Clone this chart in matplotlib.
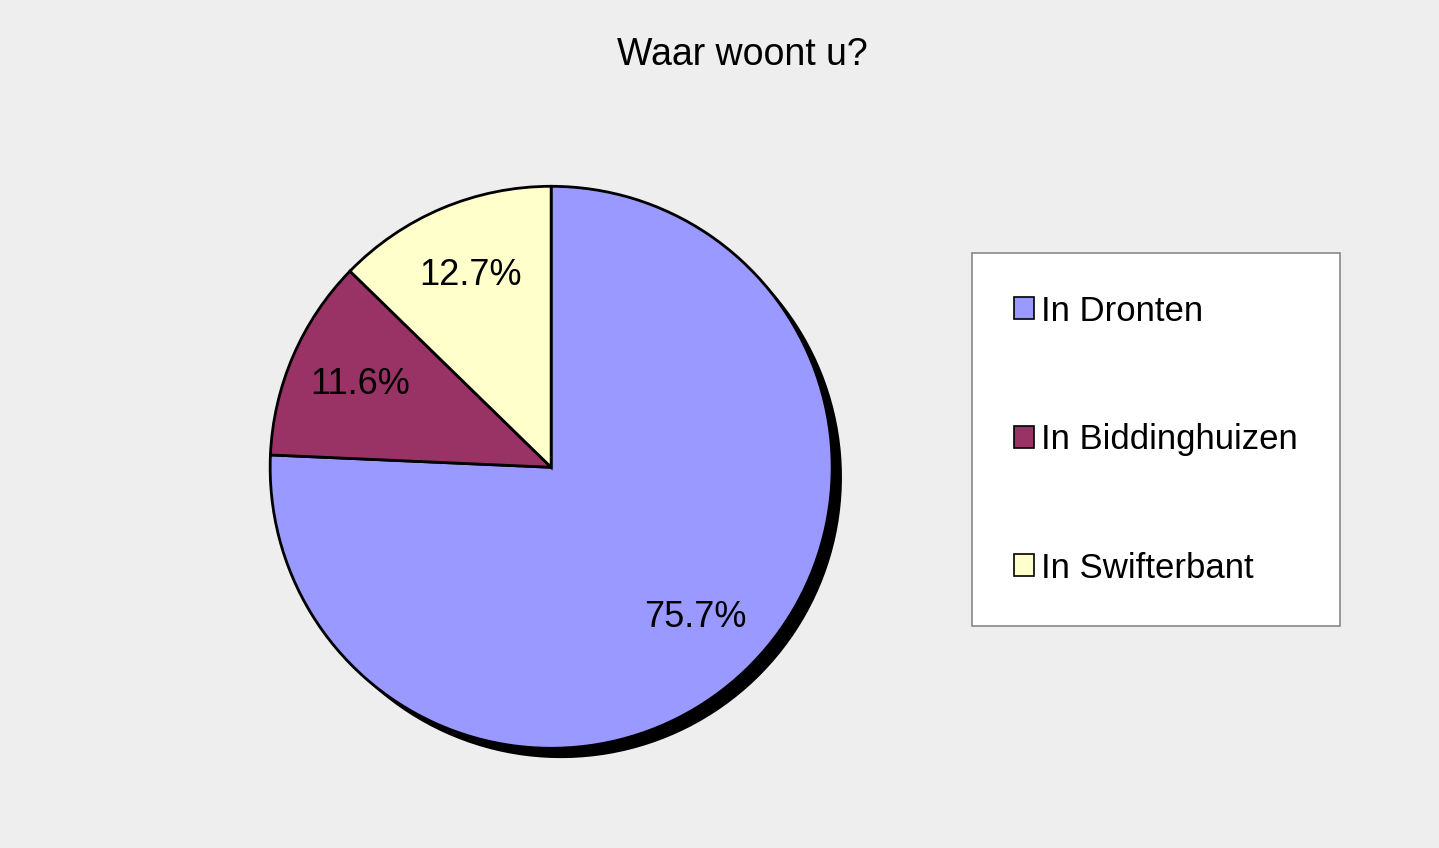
import matplotlib
matplotlib.use("Agg")
import matplotlib.pyplot as plt
from matplotlib.patches import Patch

plt.rcParams['font.family'] = ['Liberation Sans', 'DejaVu Sans']

labels = ["In Dronten", "In Biddinghuizen", "In Swifterbant"]
values = [75.7, 11.6, 12.7]
colors = ["#9999ff", "#993366", "#ffffcc"]

fig = plt.figure(figsize=(14.39, 8.48), dpi=100, facecolor="#eeeeee")
ax = fig.add_axes([0.383 - 0.1953, 0.449 - 0.3314, 0.3906, 0.6627])
ax.set_facecolor("#eeeeee")
# shadow
ax.pie(values, colors=["black"] * 3, startangle=90, counterclock=False,
       center=(0.035, -0.035), wedgeprops=dict(linewidth=0))
ax.pie(values, colors=colors, startangle=90, counterclock=False,
       autopct=lambda p: f"{p:.1f}%", pctdistance=0.74,
       wedgeprops=dict(edgecolor="black", linewidth=2),
       textprops=dict(fontsize=26, color="black"))
ax.set_xlim(-1.0, 1.0)
ax.set_ylim(-1.0, 1.0)
ax.set_aspect("equal")
ax.axis("off")

fig.text(0.516, 0.935, "Waar woont u?", ha="center", va="center", fontsize=27)

handles = [Patch(facecolor=c, edgecolor="black", linewidth=1.2) for c in colors]
leg = fig.legend(handles, labels, loc="upper left",
                 bbox_to_anchor=(972 / 1439, 1 - 253 / 848),
                 fontsize=25, labelspacing=2.75, handlelength=0.6, handleheight=0.6,
                 handletextpad=0.2, borderpad=1.2, borderaxespad=0,
                 fancybox=False, frameon=True, framealpha=1)
leg.get_frame().set_edgecolor("#888888")
leg.get_frame().set_linewidth(1.2)
leg.get_frame().set_facecolor("white")

fig.savefig("out.png", dpi=100, facecolor=fig.get_facecolor())
